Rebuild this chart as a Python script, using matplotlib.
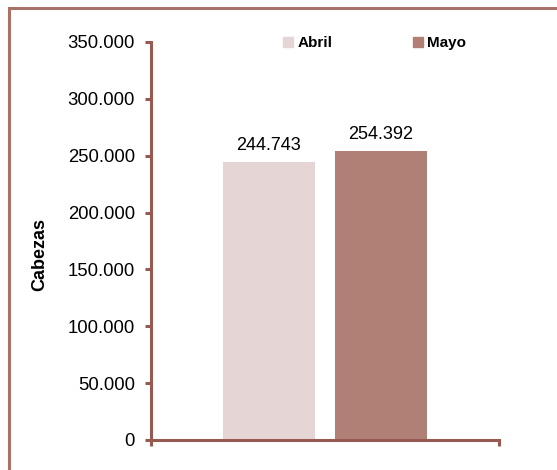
import matplotlib
matplotlib.use("Agg")
import matplotlib.pyplot as plt
from matplotlib.patches import Rectangle
from matplotlib.lines import Line2D
from matplotlib.ticker import FuncFormatter

plt.rcParams['font.family'] = ['Liberation Sans', 'DejaVu Sans']

series = ["Abril", "Mayo"]
values = [244743, 254392]
colors = ["#E6D5D5", "#B07F75"]
yticks = [0, 50000, 100000, 150000, 200000, 250000, 300000, 350000]
ylabel = "Cabezas"

axis_color = "#985A50"

fig = plt.figure(figsize=(5.57, 4.70), dpi=100)
fig.patches.append(Rectangle((9/557, -0.2), 1.2, 1 - 8/470 + 0.2, transform=fig.transFigure,
                             fill=False, edgecolor="#A87268", linewidth=2.2, zorder=0))

ax = fig.add_axes([151/557, 1 - 440/470, 348/557, 398/470])

def fmt(v):
    return f"{int(v):,}".replace(",", ".")

offsets = [-0.161, 0.161]
width = 0.267
for name, v, c, o in zip(series, values, colors, offsets):
    ax.bar(o, v, width=width, color=c, label=name, zorder=2)
    ax.text(o, v + 7000, fmt(v), ha='center', va='bottom', fontsize=13, color='black')

ax.set_xlim(-0.5, 0.5)
ax.set_ylim(0, 350000)
ax.set_yticks(yticks)
ax.yaxis.set_major_formatter(FuncFormatter(lambda v, p: fmt(v)))
ax.set_xticks([-0.5, 0.5])
ax.set_xticklabels(["", ""])

for s in ['top', 'right']:
    ax.spines[s].set_visible(False)
for s in ['left', 'bottom']:
    ax.spines[s].set_color(axis_color)
    ax.spines[s].set_linewidth(2.2)
ax.tick_params(axis='y', direction='out', length=4, width=2.2, color=axis_color,
               labelsize=13.3, pad=7.5)
ax.tick_params(axis='x', direction='out', length=4, width=2.2, color=axis_color)

ax.set_ylabel(ylabel, fontsize=13, fontweight='bold')
ax.yaxis.set_label_coords(-0.295, 0.465)

handles = [Line2D([], [], marker='s', linestyle='none', markersize=6.5,
                  markerfacecolor=c, markeredgecolor=c) for c in colors]
leg = ax.legend(handles, series, loc='center left', bbox_to_anchor=(0.364, 0.9975), ncol=2,
                frameon=False, handlelength=0.6, handletextpad=0.3, columnspacing=5.3,
                borderaxespad=0, prop={'size': 11, 'weight': 'bold'})

fig.savefig("out.png", dpi=100)
